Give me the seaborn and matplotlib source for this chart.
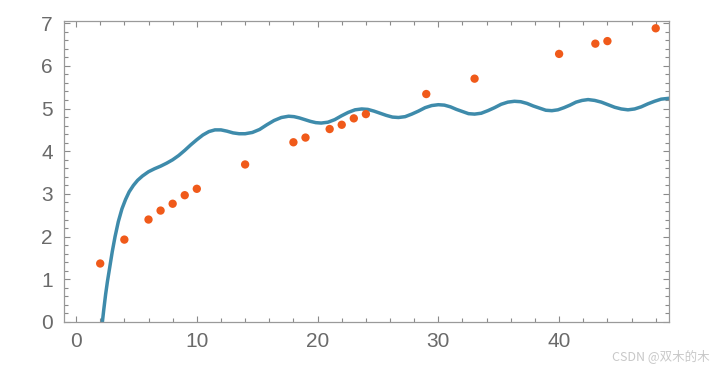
import matplotlib
matplotlib.use("Agg")
import matplotlib.pyplot as plt
from matplotlib.ticker import MultipleLocator
import seaborn as sns
import pandas as pd

# data points
pt_x = [2, 4, 6, 7, 8, 9, 10, 14, 18, 19, 21, 22, 23, 24, 29, 33, 40, 43, 44, 48]
pt_y = [1.37, 1.93, 2.40, 2.61, 2.77, 2.97, 3.12, 3.69, 4.21, 4.32, 4.52, 4.62,
        4.77, 4.87, 5.34, 5.70, 6.28, 6.52, 6.58, 6.88]

# fitted curve
curve_x = [2.0, 2.18, 2.3, 2.45, 2.6, 2.8, 3.0, 3.23, 3.5, 3.8, 4.1, 4.4, 4.75,
           5.1, 5.5, 6.0, 6.5, 7.0, 7.5, 8.0, 8.5, 9.0, 9.5, 10.0, 10.5, 11.0,
           11.5, 12.0, 12.5, 13.0, 13.5, 14.0,
           14.6, 15.2, 15.8, 16.4, 17.0, 17.6,
           18.05, 18.5, 18.95, 19.4, 19.85, 20.3,
           20.86, 21.42, 21.98, 22.54, 23.1, 23.65,
           24.16, 24.67, 25.18, 25.69, 26.2, 26.7,
           27.25, 27.8, 28.35, 28.9, 29.45, 30.0,
           30.5, 31.0, 31.5, 32.0, 32.5, 33.0,
           33.55, 34.1, 34.65, 35.2, 35.75, 36.3,
           36.82, 37.34, 37.86, 38.38, 38.9, 39.4,
           39.9, 40.4, 40.9, 41.4, 41.9, 42.4,
           42.95, 43.5, 44.05, 44.6, 45.15, 45.7,
           46.25, 46.8, 47.35, 47.9, 48.45, 49.1]
curve_y = [-0.4, 0.0, 0.3, 0.65, 0.95, 1.3, 1.65, 2.0, 2.35, 2.65, 2.87, 3.05, 3.2,
           3.32, 3.42, 3.52, 3.59, 3.65, 3.72, 3.80, 3.90, 4.02, 4.15, 4.27, 4.38, 4.46,
           4.50, 4.50, 4.47, 4.43, 4.41, 4.41,
           4.44, 4.51, 4.62, 4.72, 4.79, 4.82,
           4.81, 4.78, 4.74, 4.70, 4.67, 4.66,
           4.68, 4.74, 4.83, 4.91, 4.97, 4.99,
           4.98, 4.94, 4.89, 4.84, 4.80, 4.79,
           4.81, 4.87, 4.94, 5.02, 5.07, 5.09,
           5.08, 5.04, 4.98, 4.93, 4.88, 4.87,
           4.89, 4.95, 5.02, 5.10, 5.15, 5.17,
           5.16, 5.12, 5.06, 5.01, 4.96, 4.95,
           4.97, 5.02, 5.08, 5.15, 5.19, 5.21,
           5.19, 5.15, 5.09, 5.03, 4.99, 4.97,
           4.99, 5.04, 5.11, 5.17, 5.22, 5.24]

points = pd.DataFrame({"x": pt_x, "y": pt_y})
curve = pd.DataFrame({"x": curve_x, "y": curve_y})

sns.set_style("ticks")
plt.rcParams["font.family"] = ["Liberation Sans", "DejaVu Sans"]

fig = plt.figure(figsize=(7.22, 3.69), dpi=100)
ax = fig.add_axes([0.0886, 0.1274, 0.838, 0.8156])

sns.lineplot(data=curve, x="x", y="y", ax=ax, color="#3e8bab", linewidth=2.5,
             sort=False, estimator=None)
sns.scatterplot(data=points, x="x", y="y", ax=ax, color="#f05a1a", s=36,
                edgecolor="none", zorder=3)

ax.set_xlim(-1.0, 49.1)
ax.set_ylim(0, 7.05)
ax.set_xlabel("")
ax.set_ylabel("")

ax.xaxis.set_major_locator(MultipleLocator(10))
ax.xaxis.set_minor_locator(MultipleLocator(2))
ax.yaxis.set_major_locator(MultipleLocator(1))
ax.yaxis.set_minor_locator(MultipleLocator(0.2))

for s in ax.spines.values():
    s.set_visible(True)
    s.set_color("#9a9a9a")
    s.set_linewidth(0.9)

ax.tick_params(which="both", direction="in", top=True, right=True,
               color="#8a8a8a", width=0.8, labelsize=15, labelcolor="#6a6a6a")
ax.tick_params(which="major", length=4.5)
ax.tick_params(which="minor", length=2.6)
ax.tick_params(axis="x", pad=7)
ax.tick_params(axis="y", pad=8)

fig.text(0.983, 0.035, "CSDN @双木的木", ha="right", va="center", fontsize=9,
         color="#c8c8c8", family=["Noto Sans CJK SC", "DejaVu Sans"])

fig.savefig("out.png", dpi=100)
plt.close(fig)
